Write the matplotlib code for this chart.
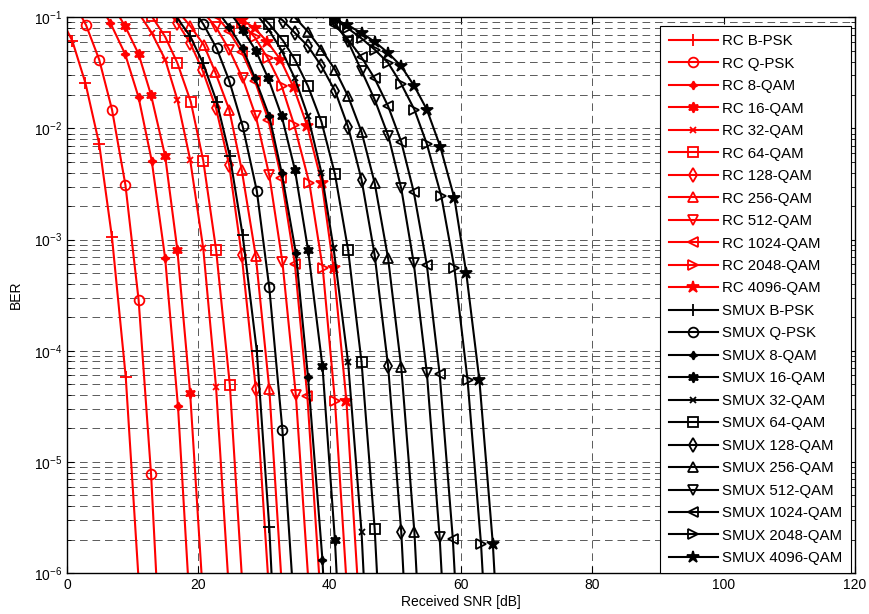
import numpy as np
import matplotlib
matplotlib.use("Agg")
import matplotlib.pyplot as plt

plt.rcParams["font.family"] = ["Liberation Sans", "DejaVu Sans"]
plt.rcParams["mathtext.default"] = "regular"
plt.rcParams["lines.scale_dashes"] = False

# Modulation names (same for RC and SMUX)
mods = ["B-PSK", "Q-PSK", "8-QAM", "16-QAM", "32-QAM", "64-QAM", "128-QAM",
        "256-QAM", "512-QAM", "1024-QAM", "2048-QAM", "4096-QAM"]

# RC curves: received SNR [dB] and log10(BER)
rc_bpsk_x = [-1.2, 0.8, 2.8, 4.9, 6.85, 8.95, 11.0]
rc_bpsk_y = [-0.98, -1.21, -1.59, -2.14, -2.98, -4.24, -6.15]
rc_qpsk_x = [0.9, 2.9, 4.9, 6.85, 8.9, 10.9, 12.8, 14.8]
rc_qpsk_y = [-0.85, -1.07, -1.38, -1.83, -2.51, -3.54, -5.11, -7.4]
rc_8qam_x = [4.6, 6.6, 8.85, 10.9, 12.9, 14.95, 16.9, 18.9]
rc_8qam_y = [-0.85, -1.05, -1.33, -1.72, -2.29, -3.17, -4.50, -6.5]
rc_16qam_x = [6.8, 8.85, 10.9, 12.8, 14.95, 16.8, 18.75, 20.8]
rc_16qam_y = [-0.88, -1.08, -1.33, -1.70, -2.25, -3.09, -4.38, -6.3]
rc_32qam_x = [10.9, 12.9, 14.95, 16.8, 18.75, 20.75, 22.7, 24.7]
rc_32qam_y = [-0.96, -1.14, -1.38, -1.74, -2.28, -3.08, -4.33, -6.2]
rc_64qam_x = [12.9, 14.95, 16.8, 18.85, 20.75, 22.7, 24.8, 26.8]
rc_64qam_y = [-0.99, -1.175, -1.41, -1.76, -2.29, -3.09, -4.31, -6.2]
rc_128qam_x = [14.8, 16.8, 18.75, 20.6, 22.7, 24.7, 26.6, 28.75, 30.8]
rc_128qam_y = [-0.90, -1.05, -1.23, -1.47, -1.82, -2.33, -3.14, -4.34, -6.2]
rc_256qam_x = [16.8, 18.8, 20.85, 22.55, 24.7, 26.6, 28.75, 30.8, 32.8]
rc_256qam_y = [-0.94, -1.08, -1.25, -1.49, -1.83, -2.37, -3.15, -4.34, -6.2]
rc_512qam_x = [20.7, 22.7, 24.7, 26.75, 28.75, 30.8, 32.8, 34.85, 36.9]
rc_512qam_y = [-0.95, -1.09, -1.29, -1.55, -1.89, -2.42, -3.20, -4.40, -6.2]
rc_1024qam_x = [22.6, 24.6, 26.6, 28.6, 30.65, 32.65, 34.7, 36.6, 38.6]
rc_1024qam_y = [-0.98, -1.12, -1.31, -1.57, -1.92, -2.45, -3.22, -4.41, -6.2]
rc_2048qam_x = [24.6, 26.6, 28.6, 30.6, 32.7, 34.6, 36.9, 38.95, 40.8, 42.8]
rc_2048qam_y = [-0.95, -1.05, -1.18, -1.37, -1.62, -1.97, -2.49, -3.26, -4.45, -6.3]
rc_4096qam_x = [26.6, 28.6, 30.5, 32.5, 34.5, 36.6, 38.8, 40.6, 42.55, 44.5]
rc_4096qam_y = [-1.02, -1.10, -1.22, -1.38, -1.63, -1.98, -2.49, -3.26, -4.45, -6.3]

# SMUX curves
smux_bpsk_x = [16.7, 18.75, 20.7, 22.8, 24.8, 26.75, 28.9, 30.8, 32.8]
smux_bpsk_y = [-1.0, -1.17, -1.41, -1.76, -2.25, -2.96, -4.00, -5.585, -8.0]
smux_qpsk_x = [18.7, 20.75, 22.8, 24.7, 26.75, 28.9, 30.8, 32.8, 34.9]
smux_qpsk_y = [-0.88, -1.06, -1.28, -1.57, -1.98, -2.56, -3.43, -4.71, -6.6]
smux_8qam_x = [22.7, 24.7, 26.75, 28.65, 30.8, 32.7, 34.85, 36.7, 38.9, 40.9]
smux_8qam_y = [-0.93, -1.085, -1.28, -1.55, -1.89, -2.40, -3.12, -4.235, -5.88, -8.3]
smux_16qam_x = [24.7, 26.75, 28.75, 30.65, 32.7, 34.7, 36.7, 38.9, 40.8, 42.8]
smux_16qam_y = [-0.95, -1.11, -1.30, -1.55, -1.89, -2.37, -3.09, -4.14, -5.705, -8.0]
smux_32qam_x = [28.7, 30.7, 32.7, 34.7, 36.7, 38.75, 40.6, 42.8, 44.85, 46.85]
smux_32qam_y = [-0.96, -1.11, -1.30, -1.55, -1.89, -2.40, -3.08, -4.10, -5.63, -8.0]
smux_64qam_x = [28.8, 30.8, 32.9, 34.7, 36.7, 38.75, 40.8, 42.8, 44.85, 46.85, 48.9]
smux_64qam_y = [-0.94, -1.06, -1.21, -1.38, -1.62, -1.94, -2.41, -3.09, -4.10, -5.60, -7.9]
smux_128qam_x = [30.9, 32.9, 34.7, 36.7, 38.75, 40.8, 42.8, 44.85, 46.85, 48.9, 50.9, 52.9]
smux_128qam_y = [-0.94, -1.03, -1.14, -1.26, -1.44, -1.66, -1.985, -2.46, -3.14, -4.14, -5.63, -7.9]
smux_256qam_x = [34.7, 36.7, 38.75, 40.8, 42.8, 44.85, 46.85, 48.9, 50.9, 52.9, 54.9]
smux_256qam_y = [-1.0, -1.13, -1.29, -1.47, -1.71, -2.03, -2.49, -3.17, -4.15, -5.63, -7.9]
smux_512qam_x = [38.8, 40.8, 42.8, 44.85, 46.85, 48.95, 50.9, 52.8, 54.8, 56.75, 58.8]
smux_512qam_y = [-0.92, -1.05, -1.22, -1.48, -1.74, -2.07, -2.54, -3.21, -4.20, -5.68, -7.9]
smux_1024qam_x = [40.8, 42.8, 44.85, 46.85, 48.9, 50.9, 52.8, 54.8, 56.75, 58.75, 60.8]
smux_1024qam_y = [-1.07, -1.20, -1.36, -1.55, -1.80, -2.12, -2.57, -3.23, -4.21, -5.69, -7.9]
smux_2048qam_x = [40.8, 42.8, 44.85, 46.85, 48.9, 50.9, 52.9, 54.8, 57.0, 59.0, 61.0, 63.05, 65.1]
smux_2048qam_y = [-1.02, -1.10, -1.19, -1.29, -1.41, -1.60, -1.83, -2.14, -2.61, -3.26, -4.265, -5.74, -7.9]
smux_4096qam_x = [38.6, 40.6, 42.65, 44.85, 46.85, 48.9, 50.9, 52.9, 54.8, 56.85, 59.0, 60.8, 62.8, 64.85, 66.9]
smux_4096qam_y = [-0.96, -1.01, -1.07, -1.14, -1.22, -1.32, -1.44, -1.62, -1.83, -2.165, -2.63, -3.30, -4.265, -5.74, -7.9]

rc_data = [(rc_bpsk_x, rc_bpsk_y), (rc_qpsk_x, rc_qpsk_y), (rc_8qam_x, rc_8qam_y),
           (rc_16qam_x, rc_16qam_y), (rc_32qam_x, rc_32qam_y), (rc_64qam_x, rc_64qam_y),
           (rc_128qam_x, rc_128qam_y), (rc_256qam_x, rc_256qam_y), (rc_512qam_x, rc_512qam_y),
           (rc_1024qam_x, rc_1024qam_y), (rc_2048qam_x, rc_2048qam_y), (rc_4096qam_x, rc_4096qam_y)]
smux_data = [(smux_bpsk_x, smux_bpsk_y), (smux_qpsk_x, smux_qpsk_y), (smux_8qam_x, smux_8qam_y),
             (smux_16qam_x, smux_16qam_y), (smux_32qam_x, smux_32qam_y), (smux_64qam_x, smux_64qam_y),
             (smux_128qam_x, smux_128qam_y), (smux_256qam_x, smux_256qam_y), (smux_512qam_x, smux_512qam_y),
             (smux_1024qam_x, smux_1024qam_y), (smux_2048qam_x, smux_2048qam_y), (smux_4096qam_x, smux_4096qam_y)]

# marker style per modulation
markers = ["+", "o", (4, 1, 0), (6, 1, 0), "x", "s", "d", "^", "v", "<", ">", "*"]
msizes = [8, 7, 6, 7.5, 4, 7, 7.5, 7.5, 7.5, 7.5, 7.5, 9]
filled = [False, False, True, True, False, False, False, False, False, False, False, True]

fig = plt.figure(figsize=(8.69, 6.14), dpi=100)
ax = fig.add_axes([0.0771, 0.0668, 0.9068, 0.905])


def draw(data, color, prefix):
    for i, (x, y) in enumerate(data):
        ax.semilogy(x, 10.0 ** np.array(y), color=color, lw=1.5,
                    marker=markers[i], ms=msizes[i], mew=1.3,
                    mfc=color if filled[i] else "none", mec=color,
                    label=prefix + " " + mods[i])


draw(rc_data, "red", "RC")
draw(smux_data, "black", "SMUX")

ax.set_xlim(0, 120)
ax.set_ylim(1e-6, 1e-1)
ax.set_xticks(range(0, 121, 20))
ax.tick_params(which="both", direction="in", top=True, right=True, labelsize=10)
ax.tick_params(which="major", length=5)
ax.tick_params(which="minor", length=3)
ax.grid(True, which="both", linestyle=(0, (5.5, 3.5)), color="0.25", lw=0.6)
for s in ax.spines.values():
    s.set_linewidth(1.0)

ax.set_xlabel("Received SNR [dB]", fontsize=10, labelpad=2)
ax.set_ylabel("BER", fontsize=10, labelpad=8)

leg = ax.legend(loc="upper right", bbox_to_anchor=(851 / 869, 1 - 26 / 614),
                bbox_transform=fig.transFigure, fontsize=10.8, handlelength=3.3,
                handletextpad=0.3, labelspacing=0.565, borderpad=0.55,
                fancybox=False, edgecolor="black", framealpha=1, borderaxespad=0)
leg.get_frame().set_linewidth(0.8)

fig.savefig("out.png", dpi=100)
